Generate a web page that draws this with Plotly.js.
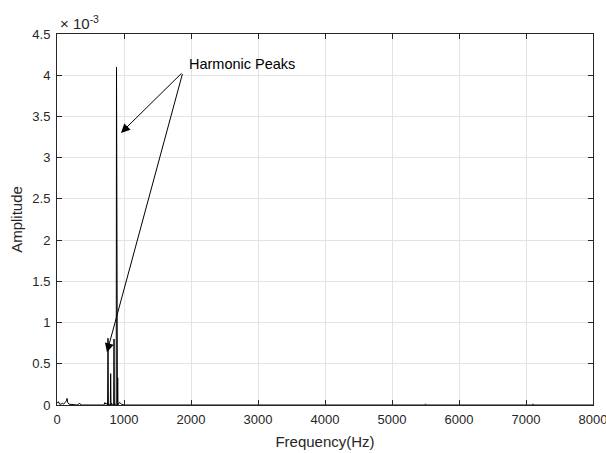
<!DOCTYPE html>
<html><head><meta charset="utf-8">
<script src="https://cdn.plot.ly/plotly-3.0.1.min.js"></script>
<style>html,body{margin:0;padding:0;background:#fff}#chart{width:606px;height:453px}</style>
</head><body><div id="chart"></div>
<script>
// Spectrum samples (Hz, amplitude)
const freq = [0, 20, 40, 60, 80, 100, 120, 140, 150, 160, 180, 300, 340, 360, 500, 700, 715, 730, 750, 755, 761, 767, 775, 790, 796, 801, 806, 815, 840, 846, 851, 856, 870, 880, 884, 888, 892, 898, 902, 906, 910, 920, 940, 960, 1000, 2000, 3000, 4000, 5000, 5480, 5500, 5520, 6000, 7000, 7080, 7100, 7120, 8000];
const amp  = [0.00002, 0.00004, 0.00001, 0.00001, 0.00002, 0.00001, 0.00003, 0.00005, 0.00008, 0.00003, 0.00001, 0.0, 0.00002, 0.0, 0.0, 0.0, 0.00003, 0.00001, 0.00002, 0.0, 0.00081, 0.0, 0.00001, 0.0, 0.0, 0.00038, 0.0, 0.00002, 0.0, 0.0, 0.00080, 0.0, 0.00001, 0.0, 0.0, 0.00410, 0.0, 0.00001, 0.0, 0.00033, 0.0, 0.00002, 0.00003, 0.00001, 0.0, 0.0, 0.0, 0.0, 0.0, 0.0, 0.00001, 0.0, 0.0, 0.0, 0.0, 0.00001, 0.0, 0.0];

const xTicks = [0, 1000, 2000, 3000, 4000, 5000, 6000, 7000, 8000];
const yTicks = [0, 0.0005, 0.001, 0.0015, 0.002, 0.0025, 0.003, 0.0035, 0.004, 0.0045];
const yTickText = ['0', '0.5', '1', '1.5', '2', '2.5', '3', '3.5', '4', '4.5'];

const labelText = 'Harmonic Peaks';
const arrowTail = {f: 1880, a: 0.00404};
const arrowHeads = [{f: 955, a: 0.00330}, {f: 746, a: 0.00064}];

const FONT = 'Liberation Sans, Arial, sans-serif';
const axisCommon = {
  showline: true, mirror: 'ticks', linecolor: '#262626', linewidth: 1,
  ticks: 'inside', ticklen: 5, tickcolor: '#262626',
  showgrid: true, gridcolor: '#e3e3e3', gridwidth: 1, zeroline: false,
  ticklabeloverflow: 'allow',
  tickfont: {family: FONT, size: 13, color: '#262626'}
};

const annotations = arrowHeads.map(h => ({
  x: h.f, y: h.a, xref: 'x', yref: 'y',
  ax: arrowTail.f, ay: arrowTail.a, axref: 'x', ayref: 'y',
  text: ' ', font: {size: 1}, showarrow: true, arrowhead: 2, arrowsize: 1.8, arrowwidth: 1, arrowcolor: '#000',
  standoff: 0, startstandoff: 0
}));
annotations.push({
  x: arrowTail.f + 60, y: arrowTail.a + 0.00010, xref: 'x', yref: 'y',
  text: labelText, showarrow: false, xanchor: 'left', yanchor: 'middle',
  font: {family: FONT, size: 14.5, color: '#000'}
});
annotations.push({
  x: 0, y: 1, xref: 'paper', yref: 'paper', xanchor: 'left', yanchor: 'bottom',
  text: '× 10<sup>-3</sup>', showarrow: false, xshift: 1, yshift: 0,
  font: {family: FONT, size: 15, color: '#262626'}
});

Plotly.newPlot('chart', [{
  x: freq, y: amp, type: 'scatter', mode: 'lines',
  line: {color: '#000', width: 1}, hoverinfo: 'skip'
}], {
  width: 606, height: 453,
  margin: {l: 57, r: 13, t: 34, b: 48},
  paper_bgcolor: '#fff', plot_bgcolor: '#fff',
  showlegend: false,
  xaxis: Object.assign({}, axisCommon, {
    range: [0, 8000], tickvals: xTicks, ticktext: xTicks.map(String),
    ticklabelstandoff: 2,
    title: {text: 'Frequency(Hz)', standoff: 10, font: {family: FONT, size: 15, color: '#262626'}}
  }),
  yaxis: Object.assign({}, axisCommon, {
    range: [0, 0.0045], tickvals: yTicks, ticktext: yTickText,
    ticklabelstandoff: 3,
    title: {text: 'Amplitude', standoff: 6, font: {family: FONT, size: 15, color: '#262626'}}
  }),
  annotations: annotations
}, {displayModeBar: false, staticPlot: true});
</script></body></html>
